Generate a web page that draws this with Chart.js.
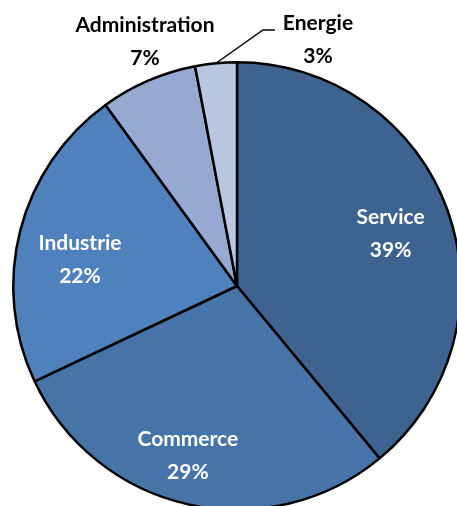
<!DOCTYPE html>
<html>
<head>
<meta charset="utf-8">
<script src="https://cdn.jsdelivr.net/npm/chart.js@4.4.1/dist/chart.umd.min.js"></script>
<style>
  html, body { margin: 0; padding: 0; background: #fff; overflow: hidden; }
  #wrap { position: absolute; left: 0; top: 0; width: 474px; height: 572px; }
</style>
</head>
<body>
<div id="wrap"><canvas id="pie"></canvas></div>
<script>
// données du graphique
const categories = ['Service', 'Commerce', 'Industrie', 'Administration', 'Energie'];
const valeurs = [39, 29, 22, 7, 3];
const couleurs = ['#3E6391', '#4674A8', '#4F81BD', '#95A9D1', '#BAC7E0'];

// labels: white inside for big slices, black outside for small ones
const labelPlugin = {
  id: 'etiquettes',
  afterDatasetsDraw(chart) {
    const ctx = chart.ctx;
    const arcs = chart.getDatasetMeta(0).data;
    ctx.save();
    ctx.font = 'bold 21px Lato';
    ctx.textAlign = 'center';
    ctx.textBaseline = 'middle';
    // petits ajustements pour coller au placement Excel
    const nudge = [[2, 2], [-14, 13], [-1, 14]];
    arcs.forEach(function(arc, i) {
      const p = chart.data.datasets[0].data[i] + '%';
      const nom = categories[i];
      const mid = (arc.startAngle + arc.endAngle) / 2;
      let x, y;
      if (i < 3) {
        const r = arc.outerRadius * 0.72;
        x = arc.x + Math.cos(mid) * r + nudge[i][0];
        y = arc.y + Math.sin(mid) * r + nudge[i][1];
        ctx.fillStyle = '#fff';
      } else {
        ctx.fillStyle = '#000';
        if (i === 3) { x = 145; y = 42; }
        else {
          x = 318; y = 40;
          // trait de rappel
          const ex = arc.x + Math.cos(mid) * arc.outerRadius;
          const ey = arc.y + Math.sin(mid) * arc.outerRadius;
          ctx.strokeStyle = '#000';
          ctx.lineWidth = 1.5;
          ctx.beginPath();
          ctx.moveTo(ex, ey);
          ctx.lineTo(263, 30);
          ctx.lineTo(275, 30);
          ctx.stroke();
        }
      }
      ctx.fillText(nom, x, y - 16.5);
      ctx.fillText(p, x, y + 16.5);
    });
    ctx.restore();
  }
};

new Chart(document.getElementById('pie'), {
  type: 'pie',
  data: {
    labels: categories,
    datasets: [{
      data: valeurs,
      backgroundColor: couleurs,
      borderColor: '#000',
      borderWidth: 2.5
    }]
  },
  options: {
    responsive: true,
    maintainAspectRatio: false,
    animation: false,
    layout: { padding: { left: 12, right: 12, top: 61, bottom: 61 } },
    plugins: { legend: { display: false }, tooltip: { enabled: false } }
  },
  plugins: [labelPlugin]
});
</script>
</body>
</html>
